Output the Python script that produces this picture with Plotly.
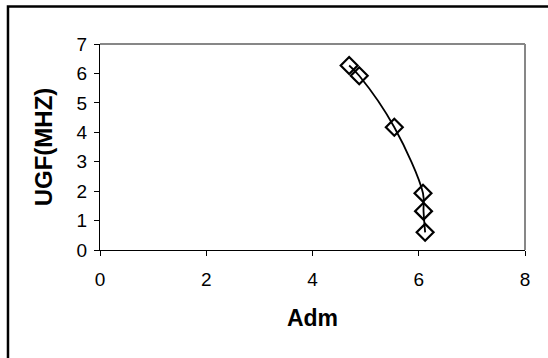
import plotly.graph_objects as go

# Measured points: differential gain vs. unity-gain frequency
adm = [4.69, 4.88, 5.54, 6.08, 6.09, 6.12]
ugf_mhz = [6.27, 5.92, 4.17, 1.93, 1.32, 0.60]

x_ticks = [0, 2, 4, 6, 8]
y_ticks = [0, 1, 2, 3, 4, 5, 6, 7]

FONT = "Liberation Sans, Arial, sans-serif"

fig = go.Figure()
fig.add_trace(go.Scatter(
    x=adm, y=ugf_mhz,
    mode="lines+markers",
    line=dict(color="black", width=1.8, shape="spline", smoothing=1),
    marker=dict(symbol="diamond-open", size=13, color="black",
                line=dict(color="black", width=2.2)),
    showlegend=False,
    cliponaxis=False,
))

fig.update_layout(
    width=548, height=358,
    margin=dict(l=100, r=23, t=44, b=108),
    paper_bgcolor="white", plot_bgcolor="white",
    font=dict(family=FONT, color="black", size=19),
    xaxis=dict(
        range=[0, 8], tickvals=x_ticks, showgrid=False, zeroline=False,
        showline=True, linecolor="black", linewidth=1.3,
        ticks="outside", ticklen=5, tickwidth=1.3, tickcolor="black",
        tickfont=dict(size=19), ticklabelstandoff=7,
        title=dict(text="<b>Adm</b>", font=dict(size=23), standoff=20),
    ),
    yaxis=dict(
        range=[0, 7], tickvals=y_ticks, showgrid=False, zeroline=False,
        showline=True, linecolor="black", linewidth=1.3,
        ticks="outside", ticklen=5, tickwidth=1.3, tickcolor="black",
        tickfont=dict(size=19), ticklabelstandoff=3,
        title=dict(text="<b>UGF(MHZ)</b>", font=dict(size=24), standoff=17),
    ),
    shapes=[
        # grey top and right edges of the plot area
        dict(type="line", xref="paper", yref="paper", x0=0, x1=1, y0=1, y1=1,
             line=dict(color="#878787", width=2)),
        dict(type="line", xref="paper", yref="paper", x0=1, x1=1, y0=0, y1=1,
             line=dict(color="#878787", width=2)),
        # black chart-area frame
        dict(type="rect", xref="paper", yref="paper",
             x0=-0.2165, x1=1.3, y0=-0.8, y1=1.182,
             line=dict(color="black", width=2.5)),
    ],
)

fig.write_html("out.html")
